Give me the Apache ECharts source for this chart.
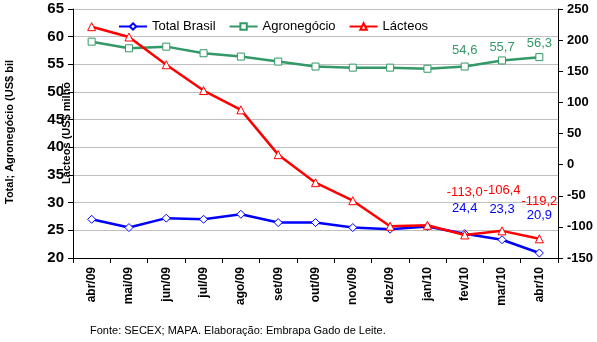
<!DOCTYPE html>
<html><head><meta charset="utf-8">
<script src="https://cdn.jsdelivr.net/npm/echarts@6/dist/echarts.min.js"></script>
<style>html,body{margin:0;padding:0;background:#fff}#c{width:597px;height:342px}</style>
</head><body><div id="c"></div>
<script>
var categories = ['abr/09','mai/09','jun/09','jul/09','ago/09','set/09','out/09','nov/09','dez/09','jan/10','fev/10','mar/10','abr/10'];
var totalBrasil = [27.0, 25.5, 27.2, 27.0, 27.9, 26.4, 26.4, 25.5, 25.2, 25.7, 24.4, 23.3, 20.9];
var agronegocio = [59.1, 57.9, 58.2, 57.0, 56.4, 55.5, 54.6, 54.4, 54.4, 54.2, 54.6, 55.7, 56.3];
var lacteos = [221.6, 205.0, 160.5, 119.0, 88.0, 16.0, -29.0, -58.0, -99.0, -97.5, -113.0, -106.4, -119.2];
var leftTicks = {min: 20, max: 65, interval: 5};
var rightTicks = {min: -150, max: 250, interval: 50};
var labelledFrom = 10;

var FONT = 'Liberation Sans, Arial, sans-serif';
function fmt(v){ return v.toFixed(1).replace('.', ','); }
function build(values, color, dists){
  return values.map(function(v, i){
    var item = {value: v};
    if (i >= labelledFrom) {
      item.label = {show: true, position: 'top', distance: dists[i - labelledFrom], color: color,
        fontFamily: FONT, fontSize: 13, formatter: function(p){ return fmt(p.value); }};
    }
    return item;
  });
}
var BLUE = '#0000FF', GREEN = '#339966', RED = '#FF0000';
var chart = echarts.init(document.getElementById('c'), null, {renderer: 'canvas'});
var lineW = 2.5;
chart.setOption({
  animation: false,
  backgroundColor: '#fff',
  grid: {left: 73, right: 39, top: 9, bottom: 84, containLabel: false},
  legend: {
    left: 113, top: 15, itemGap: 13, itemWidth: 28, itemHeight: 8,
    textStyle: {fontFamily: FONT, fontSize: 13, color: '#000'},
    data: ['Total Brasil', 'Agronegócio', 'Lácteos']
  },
  xAxis: {
    type: 'category', data: categories, boundaryGap: true,
    axisLine: {onZero: false, lineStyle: {color: '#000', width: 1}},
    axisTick: {show: true, alignWithLabel: false, length: 5, lineStyle: {color: '#000'}},
    axisLabel: {rotate: 90, margin: 9, fontFamily: FONT, fontSize: 12, fontWeight: 'bold', color: '#000', interval: 0}
  },
  yAxis: [
    {type: 'value', position: 'left', min: leftTicks.min, max: leftTicks.max, interval: leftTicks.interval,
     axisLine: {show: true, lineStyle: {color: '#000'}},
     axisTick: {show: true, length: 5, lineStyle: {color: '#000'}},
     splitLine: {show: true, lineStyle: {color: '#C0C0C0', width: 1}},
     axisLabel: {margin: 9, fontFamily: FONT, fontSize: 15, fontWeight: 'bold', color: '#000'}},
    {type: 'value', position: 'right', min: rightTicks.min, max: rightTicks.max, interval: rightTicks.interval,
     axisLine: {show: true, lineStyle: {color: '#000'}},
     axisTick: {show: true, length: 5, lineStyle: {color: '#000'}},
     splitLine: {show: false},
     axisLabel: {margin: 9, fontFamily: FONT, fontSize: 13, fontWeight: 'bold', color: '#000'}}
  ],
  series: [
    {name: 'Total Brasil', type: 'line', yAxisIndex: 0, data: build(totalBrasil, BLUE, [14, 19, 27]),
     symbol: 'diamond', symbolSize: 8, showAllSymbol: true,
     lineStyle: {color: BLUE, width: lineW}, itemStyle: {color: '#fff', borderColor: BLUE, borderWidth: 1}, color: BLUE, z: 3},
    {name: 'Agronegócio', type: 'line', yAxisIndex: 0, data: build(agronegocio, GREEN, [6, 3, 3]),
     symbol: 'rect', symbolSize: 7, showAllSymbol: true,
     lineStyle: {color: GREEN, width: lineW}, itemStyle: {color: '#fff', borderColor: GREEN, borderWidth: 1}, color: GREEN, z: 2},
    {name: 'Lácteos', type: 'line', yAxisIndex: 1, data: build(lacteos, RED, [32, 29, 26]),
     symbol: 'triangle', symbolSize: 8, showAllSymbol: true,
     lineStyle: {color: RED, width: lineW}, itemStyle: {color: '#fff', borderColor: RED, borderWidth: 1}, color: RED, z: 4}
  ],
  graphic: [
    {type: 'text', x: 4, y: 204, rotation: Math.PI / 2,
     style: {text: 'Total; Agronegócio (US$ bil', font: 'bold 11px ' + FONT, fill: '#000'}},
    {type: 'text', x: 61, y: 184, rotation: Math.PI / 2,
     style: {text: 'Lácteos (US$ milhõ', font: 'bold 11px ' + FONT, fill: '#000'}},
    {type: 'text', left: 90, top: 325,
     style: {text: 'Fonte: SECEX; MAPA. Elaboração: Embrapa Gado de Leite.', font: '11px ' + FONT, fill: '#000'}}
  ]
});
</script>
</body></html>
